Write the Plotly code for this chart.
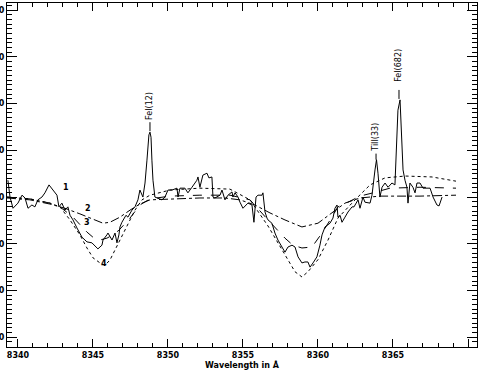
import plotly.graph_objects as go

# observed spectrum (curve 1)
obs_wl = [8339.33, 8339.47, 8339.67, 8340.00, 8340.27, 8340.47, 8340.67, 8340.93, 8341.13, 8341.33,
          8341.60, 8341.80, 8342.07, 8342.33, 8342.60, 8342.73, 8342.93, 8343.13, 8343.33, 8343.47,
          8343.67, 8343.93, 8344.27, 8344.60, 8344.93, 8345.27, 8345.33, 8345.60, 8345.67, 8345.93,
          8346.00, 8346.27, 8346.33, 8346.47, 8346.60, 8346.73, 8346.80,
          8346.93, 8347.20, 8347.33, 8347.60, 8347.80, 8348.00, 8348.13, 8348.33, 8348.47, 8348.60,
          8348.73, 8348.80, 8348.87, 8348.93, 8349.00, 8349.13, 8349.33, 8349.60, 8349.80, 8350.00,
          8350.27, 8350.60, 8350.67, 8350.80, 8351.13, 8351.33, 8351.60, 8351.93, 8352.00, 8352.13,
          8352.33, 8352.60, 8352.73, 8352.93, 8353.00, 8353.13, 8353.47, 8353.60, 8353.80, 8354.00,
          8354.27, 8354.33, 8354.47, 8354.67, 8354.80, 8355.00, 8355.33, 8355.60, 8355.73, 8355.87,
          8356.00, 8356.27, 8356.33, 8356.47, 8356.60, 8356.67, 8356.93, 8357.13, 8357.33, 8357.60,
          8357.80, 8358.00, 8358.27, 8358.47, 8358.67, 8358.93, 8359.13, 8359.33, 8359.47, 8359.67,
          8359.93, 8360.13, 8360.27, 8360.47, 8360.80, 8361.00, 8361.13, 8361.27, 8361.33, 8361.47,
          8361.60, 8361.80, 8362.00, 8362.27, 8362.40, 8362.67, 8362.80, 8363.00, 8363.13, 8363.47,
          8363.60, 8363.80, 8363.90, 8364.00, 8364.13, 8364.27, 8364.47, 8364.67, 8364.93, 8365.13,
          8365.27, 8365.33, 8365.47, 8365.60, 8365.67, 8365.80, 8365.93, 8366.00, 8366.13, 8366.33,
          8366.47, 8366.60, 8366.80, 8367.00, 8367.47, 8367.67, 8367.93, 8368.07, 8368.27]
obs_flux = [1.036, 1.000, 0.976, 0.987, 1.004, 0.998, 0.976, 0.983, 0.979, 0.994,
            1.000, 1.009, 1.026, 1.015, 1.004, 0.979, 0.987, 0.972, 0.979, 0.961,
            0.951, 0.934, 0.914, 0.904, 0.902, 0.891, 0.889, 0.897, 0.908, 0.919,
            0.923, 0.908, 0.914, 0.923, 0.902, 0.919, 0.936,
            0.946, 0.961, 0.957, 0.972, 0.979, 0.994, 1.015, 1.000, 1.030, 1.079,
            1.133, 1.139, 1.128, 1.079, 1.036, 1.000, 0.998, 0.994, 1.000, 1.015,
            1.015, 1.019, 1.000, 1.019, 1.019, 1.009, 1.021, 1.036, 1.043, 1.021,
            1.047, 1.051, 1.041, 1.043, 1.000, 0.998, 1.004, 1.015, 0.994, 1.004,
            1.011, 1.000, 1.009, 1.000, 0.989, 0.976, 0.987, 0.983, 0.946, 1.000,
            1.004, 1.004, 1.009, 0.968, 0.955, 0.951, 0.944, 0.923, 0.908, 0.893,
            0.882, 0.893, 0.897, 0.893, 0.872, 0.859, 0.861, 0.861, 0.850, 0.859,
            0.872, 0.897, 0.919, 0.936, 0.944, 0.955, 0.976, 0.983, 0.957, 0.961,
            0.946, 0.957, 0.968, 0.979, 0.979, 0.994, 0.976, 1.000, 0.989, 0.987,
            1.004, 1.058, 1.080, 1.051, 1.000, 1.021, 1.030, 1.021, 1.030, 1.026,
            1.128, 1.186, 1.208, 1.128, 1.058, 1.036, 1.021, 0.987, 1.030, 1.021,
            1.009, 1.030, 1.030, 1.019, 1.019, 1.000, 0.983, 0.981, 1.000]

# model 2 (dash-dot)
m2_wl = [8339.27, 8340.80, 8342.13, 8343.13, 8344.13, 8345.13, 8345.67, 8346.13, 8346.80, 8347.47,
         8348.13, 8348.80, 8350.13, 8352.13, 8353.80, 8354.80, 8355.80, 8356.80, 8357.80, 8358.93,
         8360.00, 8361.13, 8361.80, 8362.80, 8364.13, 8366.80, 8369.20]
m2_flux = [0.998, 0.994, 0.985, 0.976, 0.964, 0.951, 0.944, 0.946, 0.957, 0.972,
           0.985, 0.994, 0.996, 0.998, 0.998, 0.994, 0.983, 0.966, 0.951, 0.936,
           0.944, 0.972, 0.987, 0.998, 1.002, 1.002, 1.004]

# model 3 (dashed)
m3_wl = [8339.27, 8340.80, 8342.13, 8342.80, 8343.67, 8344.13, 8344.60, 8345.00, 8345.47, 8345.93,
         8346.33, 8346.73, 8347.47, 8348.13, 8348.80, 8350.13, 8352.13, 8354.13, 8355.47, 8356.67,
         8357.80, 8358.33, 8358.93, 8359.60, 8360.27, 8360.93, 8361.33, 8362.00, 8362.80, 8363.67,
         8364.80, 8366.80, 8369.20]
m3_flux = [1.000, 0.996, 0.987, 0.979, 0.957, 0.940, 0.925, 0.914, 0.908, 0.912,
           0.919, 0.929, 0.955, 0.983, 0.996, 1.002, 1.004, 1.004, 0.994, 0.951,
           0.912, 0.897, 0.891, 0.893, 0.923, 0.957, 0.979, 0.989, 1.002, 1.009,
           1.019, 1.021, 1.019]

# model 4 (dotted)
m4_wl = [8339.27, 8340.80, 8342.13, 8342.80, 8343.47, 8344.13, 8344.60, 8345.00, 8345.47, 8345.80,
         8346.13, 8346.47, 8346.73, 8347.33, 8347.80, 8348.27, 8348.80, 8350.13, 8352.13, 8354.13,
         8355.47, 8356.67, 8357.33, 8358.00, 8358.47, 8358.93, 8359.33, 8360.00, 8360.67, 8361.33,
         8362.00, 8362.47, 8363.47, 8364.47, 8365.80, 8367.60, 8369.20]
m4_flux = [1.000, 0.996, 0.987, 0.979, 0.951, 0.919, 0.891, 0.870, 0.859, 0.854,
           0.865, 0.887, 0.904, 0.940, 0.972, 0.994, 1.004, 1.015, 1.019, 1.017,
           0.994, 0.938, 0.902, 0.866, 0.840, 0.829, 0.840, 0.866, 0.908, 0.955,
           0.979, 0.994, 1.026, 1.041, 1.045, 1.043, 1.034]

# curve numbers
num_text = ["1", "2", "3", "4"]
num_wl = [8343.2, 8344.67, 8344.6, 8345.73]
num_flux = [1.021, 0.976, 0.946, 0.857]

# identified emission lines
line_names = ["FeI(12)", "TiII(33)", "FeI(682)"]
line_wl = [8348.8, 8363.87, 8365.4]
label_flux = [1.195, 1.127, 1.283]
lead_top = [1.169, 1.093, 1.240]
lead_bottom = [1.141, 1.080, 1.210]

y_ticks = [0.7, 0.8, 0.9, 1.0, 1.1, 1.2, 1.3, 1.4]
x_ticks = [8340, 8345, 8350, 8355, 8360, 8365, 8370]

fig = go.Figure()
fig.add_trace(go.Scatter(x=obs_wl, y=obs_flux, mode="lines", line=dict(color="black", width=1)))
fig.add_trace(go.Scatter(x=m2_wl, y=m2_flux, mode="lines", line=dict(color="black", width=1, dash="dashdot")))
fig.add_trace(go.Scatter(x=m3_wl, y=m3_flux, mode="lines", line=dict(color="black", width=1, dash="dash")))
fig.add_trace(go.Scatter(x=m4_wl, y=m4_flux, mode="lines", line=dict(color="black", width=1, dash="dot")))

for t, xx, yy in zip(num_text, num_wl, num_flux):
    fig.add_annotation(x=xx, y=yy, text=t, showarrow=False,
                       font=dict(family="DejaVu Sans", size=8, color="black", weight="bold"))

for name, xx, yl, yt, yb in zip(line_names, line_wl, label_flux, lead_top, lead_bottom):
    fig.add_annotation(x=xx, y=yl, text=name, showarrow=False, textangle=-90,
                       font=dict(family="DejaVu Sans", size=8, color="black"))
    fig.add_shape(type="line", x0=xx, x1=xx, y0=yb, y1=yt,
                  line=dict(color="black", width=1, dash="dash"))

fig.add_annotation(x=0.5, y=-0.052, xref="paper", yref="paper", text="Wavelength in Å",
                   showarrow=False, yanchor="middle",
                   font=dict(family="DejaVu Sans", size=8, color="black", weight="bold"))

axis_font = dict(family="DejaVu Sans", size=8, color="black", weight="bold")

fig.update_layout(
    width=478, height=371,
    margin=dict(l=7, r=1, t=3, b=24),
    plot_bgcolor="white", paper_bgcolor="white",
    showlegend=False,
    xaxis=dict(range=[8339.27, 8370.6], tickvals=x_ticks, ticks="inside", ticklen=8,
               tickcolor="black", showline=True, linecolor="black", linewidth=1, mirror="ticks",
               showgrid=False, zeroline=False, tickfont=axis_font, automargin=False,
               minor=dict(dtick=1, ticks="inside", ticklen=4, tickcolor="black", showgrid=False)),
    yaxis=dict(range=[0.679, 1.4154], tickvals=y_ticks, tickformat=".2f", ticks="inside",
               ticklen=10, tickcolor="black", showline=True, linecolor="black", linewidth=1,
               mirror="ticks", showgrid=False, zeroline=False, tickfont=axis_font, automargin=False,
               ticklabelstandoff=0,
               minor=dict(dtick=0.01, ticks="inside", ticklen=5, tickcolor="black", showgrid=False)),
)

# drop the default page margin so the figure sits at the window's top-left corner
fig.write_html("out.html", config={"displayModeBar": False},
               post_script="document.body.style.margin = '0';")
